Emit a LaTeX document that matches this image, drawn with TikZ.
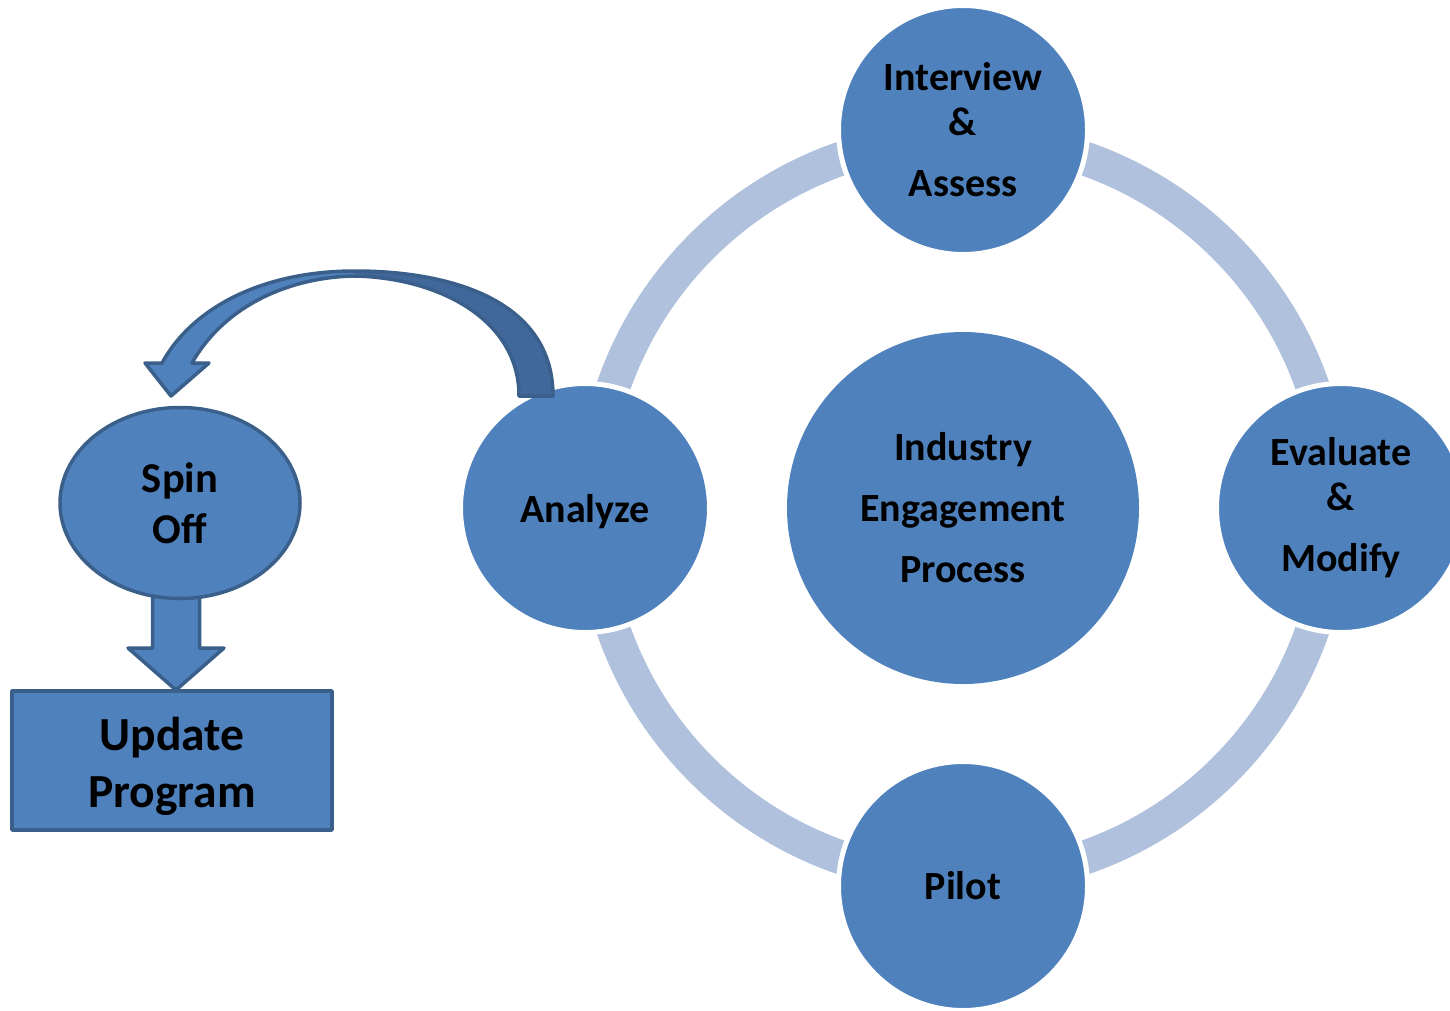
\documentclass[tikz,border=0pt]{standalone}
\usepackage{fontspec}
\setmainfont{Carlito}
\usetikzlibrary{shapes.geometric}
\definecolor{fillblue}{HTML}{4F81BD}
\definecolor{darkfill}{HTML}{41689A}
\definecolor{edgeblue}{HTML}{3A5F8B}
\definecolor{ringblue}{HTML}{B0C1DD}
\tikzset{
  bubble/.style={circle, fill=fillblue, draw=white, line width=5pt, inner sep=0pt,
    align=center, font=\bfseries\fontsize{40}{45}\selectfont},
  ringband/.style={draw=ringblue, line width=34pt},
  outlined/.style={fill=fillblue, draw=edgeblue, line width=3.5pt, line join=round},
}
\begin{document}
\begin{tikzpicture}[x=1pt,y=-1pt]
\useasboundingbox (0,0) rectangle (1450,1010);

% cycle ring behind the stage bubbles
\draw[ringband] (963,508) circle[radius=370pt];

% stage bubbles on the ring
\node[bubble, minimum size=249pt] (interview) at (963,130)
  {Interview\\\&\\[16pt]Assess};
\node[bubble, minimum size=249pt, text depth=0pt] (analyze) at (585,508) {Analyze};
\node[bubble, minimum size=249pt] (evaluate) at (1341,508)
  {Evaluate\\\&\\[16pt]Modify};
\node[bubble, minimum size=249pt] (pilot) at (963,886) {Pilot};
\node[bubble, minimum size=352pt, draw=none] (core) at (963,508)
  {Industry\\[16pt]Engagement\\[16pt]Process};

% curved block arrow from Analyze over to Spin Off
\begin{scope}
  \path[fill=fillblue]
    (553,396) .. controls (553,300) and (450,271) .. (355,271)
    .. controls (262,271) and (192,308) .. (162,363)
    -- (145,363) -- (171,396) -- (209,363) -- (192,363)
    .. controls (225,305) and (290,277) .. (355,276)
    .. controls (440,278) and (519,320) .. (519,396) -- cycle;
  \begin{scope}
    \clip (355,200) rectangle (600,420);
    \path[fill=darkfill]
      (553,396) .. controls (553,300) and (450,271) .. (355,271)
      -- (355,276)
      .. controls (440,278) and (519,320) .. (519,396) -- cycle;
  \end{scope}
  \draw[draw=edgeblue, line width=3.5pt, line join=round]
    (553,396) .. controls (553,300) and (450,271) .. (355,271)
    .. controls (262,271) and (192,308) .. (162,363)
    -- (145,363) -- (171,396) -- (209,363) -- (192,363)
    .. controls (225,305) and (290,277) .. (355,276)
    .. controls (440,278) and (519,320) .. (519,396) -- cycle;
\end{scope}

% Spin Off branch
\coordinate (shafttop) at (176,590);
\draw[outlined]
  ([xshift=-23.5pt]shafttop) -- (152.5,648) -- (128,648) -- (176,690)
  -- (224,648) -- (199.5,648) -- ([xshift=23.5pt]shafttop) -- cycle;
\node[outlined, ellipse, minimum width=240pt, minimum height=191pt, inner sep=0pt,
  align=center, font=\bfseries\fontsize{42.5}{51}\selectfont] (spin) at (180,503)
  {Spin\\Off};
\node[outlined, rectangle, minimum width=320pt, minimum height=139pt, inner sep=0pt,
  align=center, font=\bfseries\fontsize{47.5}{57}\selectfont] (update) at (172,760.5)
  {\rule{0pt}{46pt}Update\\Program};
\end{tikzpicture}
\end{document}
